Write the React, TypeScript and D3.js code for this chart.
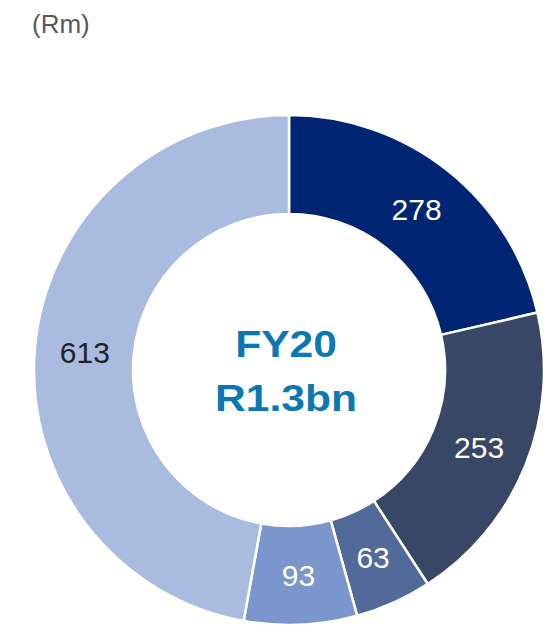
import React from "react";
import * as d3 from "d3";

const categories = ["A", "B", "C", "D", "E"];
const values = [278, 253, 63, 93, 613];
const colors = ["#002673", "#384766", "#526a99", "#7b96cc", "#aabbe0"];
const labelColors = ["#ffffff", "#ffffff", "#ffffff", "#ffffff", "#222222"];
const unitLabel = "(Rm)";
const centerLines = ["FY20", "R1.3bn"];

export default function App() {
  const W = 557, H = 625;
  const cx = 289, cy = 370, outerR = 255, innerR = 156;
  const pie = d3.pie<number>().sort(null).value((d) => d);
  const arcs = pie(values);
  const arc = d3.arc<d3.PieArcDatum<number>>().innerRadius(innerR).outerRadius(outerR);
  const labelArc = d3.arc<d3.PieArcDatum<number>>().innerRadius(205).outerRadius(205);
  return (
    <svg width={W} height={H} style={{ position: "absolute", left: 0, top: 0 }} fontFamily="'Liberation Sans', Arial, sans-serif">
      <text x={32} y={33} fontSize={26} fill="#595959">{unitLabel}</text>
      <g transform={`translate(${cx},${cy})`}>
        {arcs.map((a, i) => (
          <path key={categories[i]} d={arc(a) || ""} fill={colors[i]} stroke="#ffffff" strokeWidth={2.5} />
        ))}
        {arcs.map((a, i) => {
          const [x, y] = labelArc.centroid(a);
          return (
            <text key={"l" + i} x={x} y={y} dy="0.36em" textAnchor="middle" fontSize={30} fill={labelColors[i]}>
              {values[i]}
            </text>
          );
        })}
        <g transform="translate(-3,0) scale(1.15,1)">
          <text x={0} y={-13} textAnchor="middle" fontSize={37} fontWeight="bold" fill="#0b78b4">{centerLines[0]}</text>
          <text x={0} y={41.5} textAnchor="middle" fontSize={37} fontWeight="bold" fill="#0b78b4">{centerLines[1]}</text>
        </g>
      </g>
    </svg>
  );
}
